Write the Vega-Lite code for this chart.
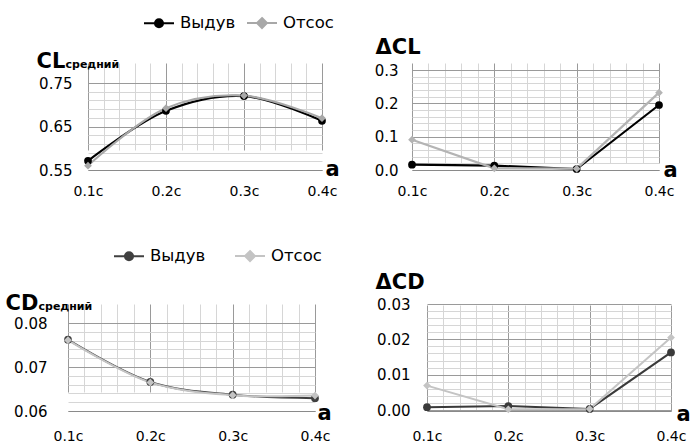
{
  "$schema": "https://vega.github.io/schema/vega-lite/v6.json",
  "padding": {"left": 5, "top": 7, "right": 0, "bottom": 0},
  "background": "#ffffff",
  "columns": 2,
  "bounds": "flush",
  "align": "all",
  "spacing": {"row": 134, "column": 85},
  "resolve": {"scale": {"color": "independent", "shape": "independent"}, "legend": {"color": "independent", "shape": "independent"}},
  "config": {
    "view": {"stroke": null},
    "font": "DejaVu Sans",
    "axis": {
      "ticks": false, "labelFont": "DejaVu Sans", "labelFontSize": 15, "labelColor": "#000000",
      "titleFont": "DejaVu Sans", "titleColor": "#000000", "titleFontWeight": "bold",
      "titleAngle": 0, "titleAlign": "left", "titleBaseline": "alphabetic",
      "grid": true, "gridWidth": 1, "domainColor": "#8a8a8a", "labelOverlap": false, "labelFlush": false, "labelBound": false
    },
    "axisX": {"labelPadding": 14, "labelFontSize": 14, "titleFontSize": 21, "domain": true, "titleAngle": 0},
    "axisY": {"domain": false, "titleFontSize": 21, "titleAngle": 0},
    "legend": {"labelFont": "DejaVu Sans", "labelFontSize": 16.5, "labelColor": "#000000", "symbolSize": 900, "symbolStrokeWidth": 2, "labelOffset": 5, "direction": "horizontal", "orient": "none", "title": null}
  },
  "concat": [
    {
      "width": 259, "height": 107,
      "data": {"values": [
        {"a": 0.1, "s": "Выдув", "v": 0.571}, {"a": 0.2, "s": "Выдув", "v": 0.686}, {"a": 0.3, "s": "Выдув", "v": 0.720}, {"a": 0.4, "s": "Выдув", "v": 0.663},
        {"a": 0.1, "s": "Отсос", "v": 0.560}, {"a": 0.2, "s": "Отсос", "v": 0.692}, {"a": 0.3, "s": "Отсос", "v": 0.721}, {"a": 0.4, "s": "Отсос", "v": 0.669}
      ]},
      "encoding": {
        "x": {"field": "a", "type": "quantitative",
          "scale": {"domain": [0.1, 0.4], "range": [20, 254], "nice": false, "zero": false},
          "axis": {"values": [0.1,0.12,0.14,0.16,0.18,0.2,0.22,0.24,0.26,0.28,0.3,0.32,0.34,0.36,0.38,0.4],
            "labelExpr": "abs(datum.value*10-round(datum.value*10))<0.001 ? format(datum.value,'.1f')+'c' : ''",
            "title": "a", "titleX": 257, "titleY": 5,
            "gridColor": {"condition": {"test": "abs(datum.value*10-round(datum.value*10))<0.001", "value": "#9a9a9a"}, "value": "#d6d6d6"}}},
        "y": {"field": "v", "type": "quantitative",
          "scale": {"domain": [0.55, 0.75], "range": [107, 20], "nice": false, "zero": false},
          "axis": {"values": [0.55,0.57,0.59,0.61,0.63,0.65,0.67,0.69,0.71,0.73,0.75],
            "labelExpr": "abs((datum.value-0.55)*10-round((datum.value-0.55)*10))<0.001 ? format(datum.value,'.2f') : ''",
            "offset": -20, "labelPadding": 16,
            "title": "CL", "titleX": -52, "titleY": 4,
            "gridColor": {"condition": {"test": "abs((datum.value-0.55)*10-round((datum.value-0.55)*10))<0.001", "value": "#9a9a9a"}, "value": "#d6d6d6"}}},
        "color": {"field": "s", "type": "nominal", "scale": {"domain": ["Выдув", "Отсос"], "range": ["#000000", "#a8a8a8"]},
          "legend": {"legendX": 75, "legendY": -56, "columnPadding": 7,
            "encode": {"symbols": {"update": {
              "shape": {"signal": "datum.value === 'Выдув' ? 'M-1,0H1M0.27,0A0.27,0.27,0,1,1,-0.27,0A0.27,0.27,0,1,1,0.27,0Z' : 'M-1,0H1M0,-0.33L0.33,0L0,0.33L-0.33,0Z'"},
              "fill": {"signal": "datum.value === 'Выдув' ? '#000000' : '#b0b0b0'"},
              "stroke": {"signal": "datum.value === 'Выдув' ? '#000000' : '#b0b0b0'"}
            }}}}}
      },
      "layer": [
        {"mark": {"type": "line", "interpolate": "catmull-rom", "strokeWidth": 2.2}, "encoding": {}},
        {"mark": {"type": "point", "filled": true, "size": 60, "opacity": 1},
          "encoding": {
            "shape": {"field": "s", "type": "nominal", "scale": {"range": ["circle", "diamond"]}, "legend": null},
            "y": {"field": "v", "type": "quantitative", "axis": {"orient": "right", "labels": false, "grid": false, "domain": false, "ticks": false, "title": "средний", "titleX": -262, "titleY": 4, "titleFontSize": 11}}
          }}
      ],
      "resolve": {"axis": {"y": "independent"}}
    },
    {
      "width": 259, "height": 107,
      "data": {"values": [
        {"a": 0.1, "s": "Выдув", "v": 0.016}, {"a": 0.2, "s": "Выдув", "v": 0.013}, {"a": 0.3, "s": "Выдув", "v": 0.003}, {"a": 0.4, "s": "Выдув", "v": 0.195},
        {"a": 0.1, "s": "Отсос", "v": 0.091}, {"a": 0.2, "s": "Отсос", "v": 0.005}, {"a": 0.3, "s": "Отсос", "v": 0.004}, {"a": 0.4, "s": "Отсос", "v": 0.232}
      ]},
      "encoding": {
        "x": {"field": "a", "type": "quantitative",
          "scale": {"domain": [0.1, 0.4], "range": [0, 247], "nice": false, "zero": false},
          "axis": {"values": [0.1,0.12,0.14,0.16,0.18,0.2,0.22,0.24,0.26,0.28,0.3,0.32,0.34,0.36,0.38,0.4],
            "labelExpr": "abs(datum.value*10-round(datum.value*10))<0.001 ? format(datum.value,'.1f')+'c' : ''",
            "title": "a", "titleX": 251, "titleY": 6,
            "gridColor": {"condition": {"test": "abs(datum.value*10-round(datum.value*10))<0.001", "value": "#9a9a9a"}, "value": "#d6d6d6"}}},
        "y": {"field": "v", "type": "quantitative",
          "scale": {"domain": [0, 0.3], "range": [107, 7], "nice": false, "zero": false},
          "axis": {"values": [0,0.02,0.04,0.06,0.08,0.1,0.12,0.14,0.16,0.18,0.2,0.22,0.24,0.26,0.28,0.3],
            "labelExpr": "abs(datum.value*10-round(datum.value*10))<0.001 ? format(datum.value,'.1f') : ''",
            "labelPadding": 14,
            "title": "ΔCL", "titleX": -37, "titleY": -10,
            "gridColor": {"condition": {"test": "abs(datum.value*10-round(datum.value*10))<0.001", "value": "#9a9a9a"}, "value": "#d6d6d6"}}},
        "color": {"field": "s", "type": "nominal",
          "scale": {"domain": ["Выдув", "Отсос"], "range": ["#000000", "#b4b4b4"]}, "legend": null}
      },
      "layer": [
        {"mark": {"type": "line", "strokeWidth": 2.2}, "encoding": {}},
        {"mark": {"type": "point", "filled": true, "size": 60, "opacity": 1},
          "encoding": {"shape": {"field": "s", "type": "nominal", "scale": {"range": ["circle", "diamond"]}, "legend": null}}}
      ]
    },
    {
      "width": 259, "height": 107,
      "data": {"values": [
        {"a": 0.1, "s": "Выдув", "v": 0.0762}, {"a": 0.2, "s": "Выдув", "v": 0.0666}, {"a": 0.3, "s": "Выдув", "v": 0.0637}, {"a": 0.4, "s": "Выдув", "v": 0.0629},
        {"a": 0.1, "s": "Отсос", "v": 0.0761}, {"a": 0.2, "s": "Отсос", "v": 0.0665}, {"a": 0.3, "s": "Отсос", "v": 0.0636}, {"a": 0.4, "s": "Отсос", "v": 0.0635}
      ]},
      "encoding": {
        "x": {"field": "a", "type": "quantitative",
          "scale": {"domain": [0.1, 0.4], "range": [0, 247], "nice": false, "zero": false},
          "axis": {"values": [0.1,0.12,0.14,0.16,0.18,0.2,0.22,0.24,0.26,0.28,0.3,0.32,0.34,0.36,0.38,0.4],
            "labelExpr": "abs(datum.value*10-round(datum.value*10))<0.001 ? format(datum.value,'.1f')+'c' : ''",
            "title": "a", "titleX": 249, "titleY": 8, "labelPadding": 18,
            "gridColor": {"condition": {"test": "abs(datum.value*10-round(datum.value*10))<0.001", "value": "#9a9a9a"}, "value": "#d6d6d6"}}},
        "y": {"field": "v", "type": "quantitative",
          "scale": {"domain": [0.06, 0.08], "range": [107, 19], "nice": false, "zero": false},
          "axis": {"values": [0.06,0.062,0.064,0.066,0.068,0.07,0.072,0.074,0.076,0.078,0.08],
            "labelExpr": "abs(datum.value*100-round(datum.value*100))<0.001 ? format(datum.value,'.2f') : ''",
            "labelPadding": 21,
            "title": "CD", "titleX": -63, "titleY": 5,
            "gridColor": {"condition": {"test": "abs(datum.value*100-round(datum.value*100))<0.001", "value": "#9a9a9a"}, "value": "#d6d6d6"}}},
        "color": {"field": "s", "type": "nominal", "scale": {"domain": ["Выдув", "Отсос"], "range": ["#404040", "#c4c4c4"]},
          "legend": {"legendX": 45, "legendY": -64, "columnPadding": 25,
            "encode": {"symbols": {"update": {
              "shape": {"signal": "datum.value === 'Выдув' ? 'M-1,0H1M0.27,0A0.27,0.27,0,1,1,-0.27,0A0.27,0.27,0,1,1,0.27,0Z' : 'M-1,0H1M0,-0.33L0.33,0L0,0.33L-0.33,0Z'"},
              "fill": {"signal": "datum.value === 'Выдув' ? '#404040' : '#c8c8c8'"},
              "stroke": {"signal": "datum.value === 'Выдув' ? '#404040' : '#c8c8c8'"}
            }}}}}
      },
      "layer": [
        {"mark": {"type": "line", "interpolate": "catmull-rom", "strokeWidth": 2}, "encoding": {}},
        {"mark": {"type": "point", "filled": true, "size": 60, "opacity": 1},
          "encoding": {
            "shape": {"field": "s", "type": "nominal", "scale": {"range": ["circle", "diamond"]}, "legend": null},
            "y": {"field": "v", "type": "quantitative", "axis": {"orient": "right", "labels": false, "grid": false, "domain": false, "ticks": false, "title": "средний", "titleX": -289, "titleY": 5, "titleFontSize": 11}}
          }}
      ],
      "resolve": {"axis": {"y": "independent"}}
    },
    {
      "width": 259, "height": 107,
      "data": {"values": [
        {"a": 0.1, "s": "Выдув", "v": 0.0008}, {"a": 0.2, "s": "Выдув", "v": 0.0011}, {"a": 0.3, "s": "Выдув", "v": 0.0003}, {"a": 0.4, "s": "Выдув", "v": 0.0163},
        {"a": 0.1, "s": "Отсос", "v": 0.0069}, {"a": 0.2, "s": "Отсос", "v": 0.0002}, {"a": 0.3, "s": "Отсос", "v": 0.0003}, {"a": 0.4, "s": "Отсос", "v": 0.0205}
      ]},
      "encoding": {
        "x": {"field": "a", "type": "quantitative",
          "scale": {"domain": [0.1, 0.4], "range": [15, 259], "nice": false, "zero": false},
          "axis": {"values": [0.1,0.12,0.14,0.16,0.18,0.2,0.22,0.24,0.26,0.28,0.3,0.32,0.34,0.36,0.38,0.4],
            "labelExpr": "abs(datum.value*10-round(datum.value*10))<0.001 ? format(datum.value,'.1f')+'c' : ''",
            "title": "a", "titleX": 264, "titleY": 9, "labelPadding": 18,
            "gridColor": {"condition": {"test": "abs(datum.value*10-round(datum.value*10))<0.001", "value": "#9a9a9a"}, "value": "#d6d6d6"}}},
        "y": {"field": "v", "type": "quantitative",
          "scale": {"domain": [0, 0.03], "range": [106, 0], "nice": false, "zero": false},
          "axis": {"values": [0,0.002,0.004,0.006,0.008,0.01,0.012,0.014,0.016,0.018,0.02,0.022,0.024,0.026,0.028,0.03],
            "labelExpr": "abs(datum.value*100-round(datum.value*100))<0.001 ? format(datum.value,'.2f') : ''",
            "offset": -15, "labelPadding": 17,
            "title": "ΔCD", "titleX": -52, "titleY": -16,
            "gridColor": {"condition": {"test": "abs(datum.value*100-round(datum.value*100))<0.001", "value": "#9a9a9a"}, "value": "#d6d6d6"}}},
        "color": {"field": "s", "type": "nominal",
          "scale": {"domain": ["Выдув", "Отсос"], "range": ["#3a3a3a", "#c4c4c4"]}, "legend": null}
      },
      "layer": [
        {"mark": {"type": "line", "strokeWidth": 2}, "encoding": {}},
        {"mark": {"type": "point", "filled": true, "size": 60, "opacity": 1},
          "encoding": {"shape": {"field": "s", "type": "nominal", "scale": {"range": ["circle", "diamond"]}, "legend": null}}}
      ]
    }
  ]
}
